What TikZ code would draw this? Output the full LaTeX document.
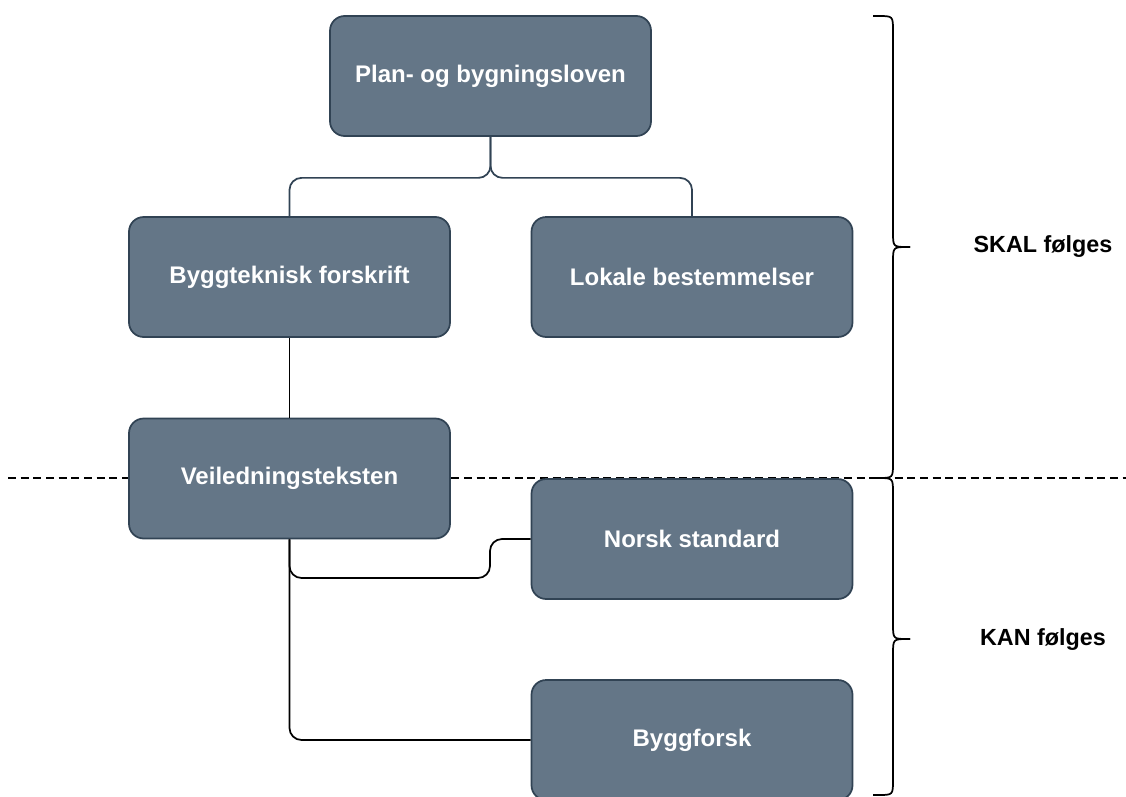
\documentclass[tikz,border=0pt]{standalone}
\usepackage{fontspec}
\setmainfont{Liberation Sans}
\definecolor{boxfill}{HTML}{647687}
\definecolor{boxline}{HTML}{314354}
\begin{document}
\begin{tikzpicture}[x=0.75pt,y=-0.75pt,
  box/.style={draw=boxline, fill=boxfill, line width=1.3pt, rounded corners=11pt,
    minimum width=240.75pt, minimum height=90pt, inner sep=0pt, text=white,
    font=\fontsize{18}{21}\selectfont\bfseries},
  topconn/.style={draw=boxline, line width=1.3pt, rounded corners=9pt},
  conn/.style={draw=black, line width=1.3pt, rounded corners=9pt},
  brace/.style={draw=black, line width=1.3pt},
  divider/.style={draw=black, line width=1.2pt, dash pattern=on 6pt off 3.5pt},
  lbl/.style={font=\fontsize{17.5}{21}\selectfont\bfseries, text=black}]
\clip (0,0) rectangle (1126,796);
% divider
\coordinate (dl) at (8,478);
\coordinate (dr) at (1126,478);
\draw[divider] (dl) -- (dr);
% boxes
\node[box] (top) at (490.5,76) {Plan- og bygningsloven};
\node[box] (byg) at (289.5,277) {Byggteknisk forskrift};
\node[box] (lok) at (692,277) {Lokale bestemmelser};
\node[box] (vei) at (289.5,478.5) {Veiledningsteksten};
\node[box] (nor) at (692,539) {Norsk standard};
\node[box] (bf) at (692,740) {Byggforsk};
% connectors
\draw[topconn] (top.south) -- ++(0,41) -| (byg.north);
\draw[topconn] (top.south) -- ++(0,41) -| (lok.north);
\draw[conn] (byg.south) -- (vei.north);
\coordinate (m) at (490,578);
\draw[conn] (vei.south) |- (m) |- (nor.west);
\draw[conn] (vei.south) |- (bf.west);
% braces
\draw[brace] (873,16) -- (878,16) .. controls (893,16) .. (893,31) -- (893,232)
  .. controls (893,247) .. (908,247) -- (910,247);
\draw[brace] (910,247) -- (908,247) .. controls (893,247) .. (893,262) -- (893,463)
  .. controls (893,478) .. (878,478) -- (873,478);
\draw[brace] (873,478) -- (878,478) .. controls (893,478) .. (893,493) -- (893,624)
  .. controls (893,639) .. (908,639) -- (910,639);
\draw[brace] (910,639) -- (908,639) .. controls (893,639) .. (893,654) -- (893,780)
  .. controls (893,795) .. (878,795) -- (873,795);
% labels
\node[lbl] (skal) at (1043,247) {SKAL følges};
\node[lbl] (kan) at (1043,640) {KAN følges};
\end{tikzpicture}
\end{document}
